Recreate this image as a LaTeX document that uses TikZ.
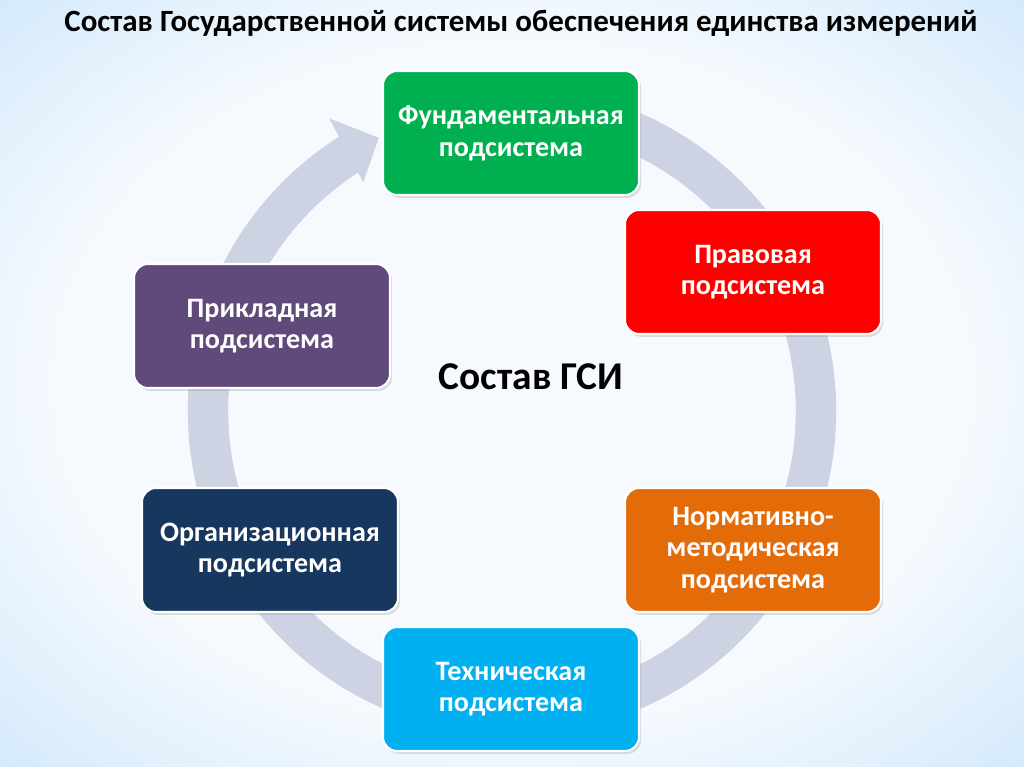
\documentclass[tikz,border=0pt]{standalone}
\usepackage{fontspec}
\setmainfont{Carlito}
\usepackage{tikz}
\usetikzlibrary{shadows}

\definecolor{bgcenter}{RGB}{246,250,254}
\definecolor{bgedge}{RGB}{176,216,247}
\definecolor{bgcorner}{RGB}{150,201,243}
\definecolor{ringcol}{RGB}{205,211,227}
\definecolor{fundgreen}{RGB}{0,176,80}
\definecolor{pravred}{RGB}{255,0,0}
\definecolor{prikpurple}{RGB}{96,74,123}
\definecolor{orgnavy}{RGB}{23,55,94}
\definecolor{normorange}{RGB}{227,108,9}
\definecolor{techcyan}{RGB}{0,176,240}

\pgfdeclareradialshading{bgsky}{\pgfpoint{0bp}{0bp}}{color(0bp)=(bgcenter); color(22bp)=(bgcenter); color(50bp)=(bgedge); color(72bp)=(bgcorner)}

\tikzset{
  subbox/.style={draw=white, line width=1.5pt, rounded corners=10pt,
    minimum width=6.4cm, minimum height=3.1cm, align=center, text=white,
    font=\bfseries\fontsize{20}{22.5}\selectfont,
    drop shadow={shadow xshift=1.5pt, shadow yshift=-2pt, opacity=0.25}},
  ring/.style={draw=ringcol, line width=1.01cm}
}

\begin{document}
\begin{tikzpicture}[x=0.025cm, y=-0.025cm]
    \useasboundingbox (0,0) rectangle (1024,767);

    % Background
    \shade[shading=bgsky] (0,0) rectangle (1024,767);

    % Title
    \node[font=\bfseries\fontsize{22}{22}\selectfont] (title) at (521,23)
      {Состав Государственной системы обеспечения единства измерений};

    % Ring with arrow head
    \coordinate (ctr) at (512,411);
    \draw[ring] (ctr) ++(-90:304) arc[start angle=-90, end angle=238.5, radius=304];
    \fill[ringcol, shift={(ctr)}] (238:345) -- (244:304) -- (237:273) -- cycle;

    % Centre label
    \node[font=\bfseries\fontsize{28}{28}\selectfont] (gsi) at (531,377) {Состав ГСИ};

    % Subsystems
    \foreach \n/\x/\y/\c/\t in {
      fund/511/133/fundgreen/{Фундаментальная\\подсистема},
      prav/753/272/pravred/{Правовая\\подсистема},
      prik/262/326/prikpurple/{Прикладная\\подсистема},
      org/270/550/orgnavy/{Организационная\\подсистема},
      norm/753/550/normorange/{Нормативно-\\методическая\\подсистема},
      tech/511/689/techcyan/{Техническая\\подсистема}} {
      \node[subbox, fill=\c] (\n) at (\x,\y) {\t};
    }
\end{tikzpicture}
\end{document}
